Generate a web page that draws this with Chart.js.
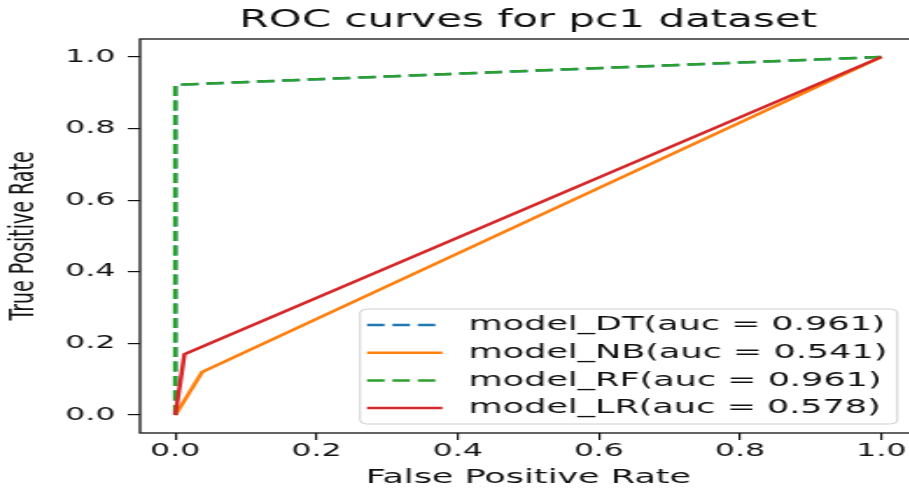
<!DOCTYPE html>
<html>
<head>
<meta charset="utf-8">
<script src="https://cdn.jsdelivr.net/npm/chart.js@4"></script>
<style>
  html, body { margin: 0; padding: 0; background: #fff; overflow: hidden; }
  /* the figure is drawn narrow and widened, so text and lines come out stretched */
  #wrap { width: 525px; height: 490px; transform: scaleX(1.75); transform-origin: 0 0; }
</style>
</head>
<body>
<div id="wrap"><canvas id="roc"></canvas></div>
<script>
// ROC points per model: false positive rate / true positive rate
var fprDT = [0, 0, 1];
var tprDT = [0, 0.922, 1];
var fprNB = [0, 0.038, 1];
var tprNB = [0, 0.12, 1];
var fprRF = [0, 0, 1];
var tprRF = [0, 0.922, 1];
var fprLR = [0, 0.013, 1];
var tprLR = [0, 0.17, 1];

var models = ["model_DT", "model_NB", "model_RF", "model_LR"];
var aucs = [0.961, 0.541, 0.961, 0.578];
var xTicks = [0, 0.2, 0.4, 0.6, 0.8, 1.0];
var yTicks = [0, 0.2, 0.4, 0.6, 0.8, 1.0];

function pts(fpr, tpr) {
  return fpr.map(function (x, i) { return { x: x, y: tpr[i] }; });
}
function lbl(i) {
  return models[i] + "(auc = " + aucs[i].toFixed(3) + ")";
}

Chart.defaults.font.family = "'DejaVu Sans', sans-serif";
Chart.defaults.color = "#111";

// axes frame on all four sides
var frame = {
  id: "frame",
  afterDatasetsDraw: function (chart) {
    var a = chart.chartArea, ctx = chart.ctx;
    ctx.save();
    ctx.strokeStyle = "#111";
    ctx.lineWidth = 1.3;
    ctx.strokeRect(a.left, a.top, a.right - a.left, a.bottom - a.top);
    ctx.restore();
  }
};

// legend box in the lower right of the plot
var legendBox = {
  id: "legendBox",
  afterDraw: function (chart) {
    var a = chart.chartArea, ctx = chart.ctx;
    var w = 307, h = 115;
    var x = a.right - 11 - w, y = a.bottom - 9 - h;
    ctx.save();
    ctx.beginPath();
    ctx.roundRect(x, y, w, h, 4);
    ctx.fillStyle = "rgba(255,255,255,0.8)";
    ctx.fill();
    ctx.strokeStyle = "#cfcfcf";
    ctx.lineWidth = 1;
    ctx.stroke();
    ctx.font = "20px 'DejaVu Sans', sans-serif";
    ctx.textBaseline = "middle";
    chart.data.datasets.forEach(function (ds, i) {
      var o = chart.getDatasetMeta(i).dataset.options;
      var cy = y + 16 + i * 27.7;
      ctx.beginPath();
      ctx.setLineDash(o.borderDash || []);
      ctx.strokeStyle = o.borderColor;
      ctx.lineWidth = o.borderWidth;
      ctx.moveTo(x + 4, cy);
      ctx.lineTo(x + 47, cy);
      ctx.stroke();
      ctx.setLineDash([]);
      ctx.fillStyle = "#111";
      ctx.fillText(ds.label, x + 62, cy);
    });
    ctx.restore();
  }
};

new Chart("roc", {
  type: "line",
  data: {
    datasets: [
      { label: lbl(0), data: pts(fprDT, tprDT), borderColor: "#1f77b4", borderDash: [10, 4.5], order: 4 },
      { label: lbl(1), data: pts(fprNB, tprNB), borderColor: "#ff7f0e", order: 3 },
      { label: lbl(2), data: pts(fprRF, tprRF), borderColor: "#2ca02c", borderDash: [10, 4.5], order: 2 },
      { label: lbl(3), data: pts(fprLR, tprLR), borderColor: "#d62728", order: 1 }
    ]
  },
  options: {
    responsive: true,
    maintainAspectRatio: false,
    animation: false,
    layout: { padding: 0 },
    datasets: { line: { borderWidth: 2.5, pointRadius: 0, tension: 0, fill: false } },
    plugins: {
      legend: { display: false },
      tooltip: { enabled: false },
      title: {
        display: true,
        fullSize: false,
        text: "ROC curves for pc1 dataset",
        color: "#111",
        font: { size: 24, weight: "normal", lineHeight: 1 },
        padding: { top: 9, bottom: 6 }
      }
    },
    scales: {
      x: {
        type: "linear",
        min: -0.05,
        max: 1.05,
        afterBuildTicks: function (s) { s.ticks = xTicks.map(function (v) { return { value: v }; }); },
        afterFit: function (s) { s.height = 57; },
        grid: { display: true, drawOnChartArea: false, drawTicks: true, tickLength: 7, color: "#111", lineWidth: 1.2 },
        border: { display: false },
        ticks: {
          padding: 1,
          maxRotation: 0,
          font: { size: 18 },
          callback: function (v) { return v.toFixed(1); }
        },
        title: {
          display: true,
          text: "False Positive Rate",
          font: { size: 20, lineHeight: 1 },
          padding: { top: 0, bottom: 2 }
        }
      },
      y: {
        type: "linear",
        min: -0.05,
        max: 1.05,
        afterBuildTicks: function (s) { s.ticks = yTicks.map(function (v) { return { value: v }; }); },
        afterFit: function (s) { s.width = 80; },
        grid: { display: true, drawOnChartArea: false, drawTicks: true, tickLength: 7, color: "#111", lineWidth: 1.2 },
        border: { display: false },
        ticks: {
          padding: 7,
          font: { size: 18 },
          callback: function (v) { return v.toFixed(1); }
        },
        title: {
          display: true,
          text: "True Positive Rate",
          font: { size: 19, lineHeight: 1 },
          padding: { top: 5, bottom: 0 }
        }
      }
    }
  },
  plugins: [frame, legendBox]
});
</script>
</body>
</html>
